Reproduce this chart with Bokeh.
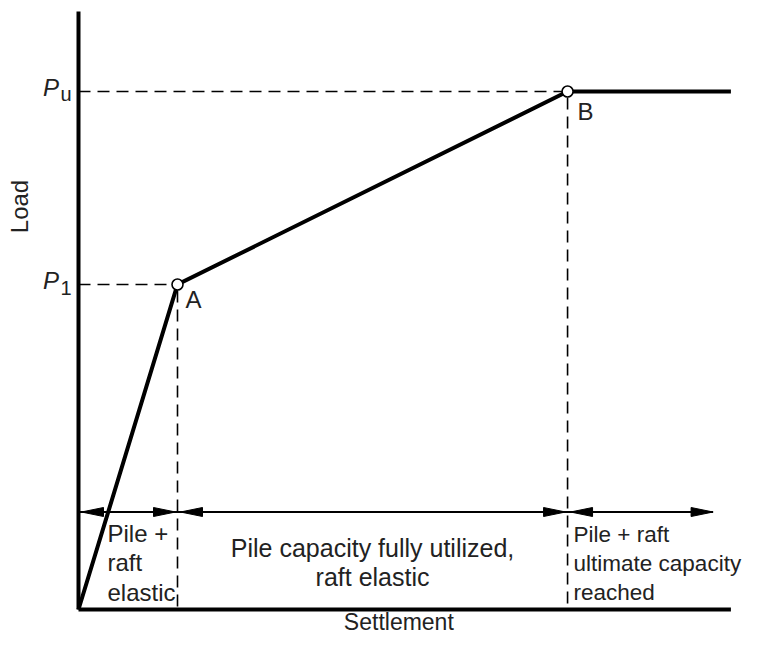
from bokeh.plotting import figure
from bokeh.models import Range1d
from bokeh.core.properties import value
from bokeh.embed import file_html
from bokeh.resources import INLINE
import math

# ---------------- data (schematic, arbitrary units) ----------------
settlement = [0.0, 1.0, 4.94, 6.59]      # origin, A, B, end of plateau
load = [0.0, 1.0, 1.594, 1.594]
point_names = ["A", "B"]
point_settlement = [1.0, 4.94]
point_load = [1.0, 1.594]
load_tick_main = ["P", "P"]
load_tick_sub = ["1", "u"]
load_tick_values = [1.0, 1.594]
zone_bounds = [0.0, 1.0, 4.94, 6.41]
zone_labels = [["Pile +", "raft", "elastic"],
               ["Pile capacity fully utilized,", "raft elastic"],
               ["Pile + raft", "ultimate capacity", "reached"]]
zone_level = 0.30
axis_x_max = 6.59
axis_y_max = 1.84
x_title = "Settlement"
y_title = "Load"

# ---------------- layout helpers ----------------
W, H = 744, 635
SX, SY = 99.0, 325.0          # px per unit
OX, OY = 78.0, 26.0           # origin position in frame (from left, from bottom)
BFIX = 9.0                    # baseline correction (px) for svg text

def px_x(px):
    return px / SX

def px_y(px):
    return px / SY

FONT = value("Liberation Sans")
TXT = "#222222"
FS = "24px"

p = figure(width=W, height=H, output_backend="svg", toolbar_location=None,
           x_range=Range1d(-OX / SX, (W - OX) / SX),
           y_range=Range1d(-OY / SY, (H - OY) / SY),
           x_axis_type=None, y_axis_type=None, min_border=0)
p.grid.visible = False
p.outline_line_color = None
p.background_fill_color = "white"
p.border_fill_color = "white"

# dashed guide lines
for xs, ys in zip(point_settlement, point_load):
    p.line([0, xs], [ys, ys], line_color="black", line_width=1.6, line_dash="12 7")
    p.line([xs, xs], [ys - px_y(6), 0], line_color="black", line_width=1.6, line_dash="12 7")

# zone dimension line
p.line([zone_bounds[0], zone_bounds[-1]], [zone_level, zone_level], line_color="black", line_width=1.8)
hl, hw = px_x(22), px_y(4.5)
heads_x, heads_y = [], []
for i in range(len(zone_bounds) - 1):
    a, b = zone_bounds[i], zone_bounds[i + 1]
    ta = a + px_x(3)
    heads_x.append([ta, ta + hl, ta + hl])
    heads_y.append([zone_level, zone_level + hw, zone_level - hw])
    tb = b - px_x(2) if i < len(zone_bounds) - 2 else b
    heads_x.append([tb, tb - hl, tb - hl])
    heads_y.append([zone_level, zone_level + hw, zone_level - hw])
p.patches(heads_x, heads_y, fill_color="black", line_color="black", line_width=1)

# axes
p.line([0, 0], [0, axis_y_max], line_color="black", line_width=4)
p.line([0, axis_x_max], [0, 0], line_color="black", line_width=4)

# load-settlement curve
p.line(settlement, load, line_color="black", line_width=4, line_join="miter")
p.scatter(point_settlement, point_load, size=11, fill_color="white",
          line_color="black", line_width=1.6)

# point labels
label_dx = [px_x(8), px_x(10)]
label_dy = [px_y(24 - BFIX), px_y(29 - BFIX)]
p.text([x + d for x, d in zip(point_settlement, label_dx)],
       [y - d for y, d in zip(point_load, label_dy)],
       text=point_names, text_font=FONT, text_font_size=FS, text_color=TXT,
       text_align="left", text_baseline="alphabetic")

# load tick labels P1, Pu
p.text([-px_x(19.5)] * 2, [v - px_y(5 - BFIX) for v in load_tick_values], text=load_tick_main,
       text_font=FONT, text_font_size=FS, text_font_style="italic", text_color=TXT,
       text_align="right", text_baseline="alphabetic")
p.text([-px_x(18)] * 2, [v - px_y(12 - BFIX) for v in load_tick_values], text=load_tick_sub,
       text_font=FONT, text_font_size="20px", text_color=TXT,
       text_align="left", text_baseline="alphabetic")

# zone texts
z1 = zone_labels[0]
p.text([zone_bounds[0] + px_x(29)] * len(z1),
       [zone_level - px_y(30 + 29.5 * i - BFIX) for i in range(len(z1))],
       text=z1, text_font=FONT, text_font_size=FS, text_color=TXT,
       text_align="left", text_baseline="alphabetic")
z2 = zone_labels[1]
p.text([(zone_bounds[1] + zone_bounds[2]) / 2] * len(z2),
       [zone_level - px_y(45 + 29 * i - BFIX) for i in range(len(z2))],
       text=z2, text_font=FONT, text_font_size="25px", text_color=TXT,
       text_align="center", text_baseline="alphabetic")
z3 = zone_labels[2]
p.text([zone_bounds[2] + px_x(6)] * len(z3),
       [zone_level - px_y(31 + 29 * i - BFIX) for i in range(len(z3))],
       text=z3, text_font=FONT, text_font_size="22.5px", text_color=TXT,
       text_align="left", text_baseline="alphabetic")

# axis titles
p.text([axis_x_max * 0.491], [-px_y(21 - BFIX)], text=[x_title], text_font=FONT,
       text_font_size="23px", text_color=TXT, text_align="center", text_baseline="alphabetic")
p.text([-px_x(59)], [px_y(403)], text=[y_title], text_font=FONT, angle=math.pi / 2,
       text_font_size=FS, text_color=TXT, text_align="center", text_baseline="middle")

open("out.html", "w").write(file_html(p, INLINE))
